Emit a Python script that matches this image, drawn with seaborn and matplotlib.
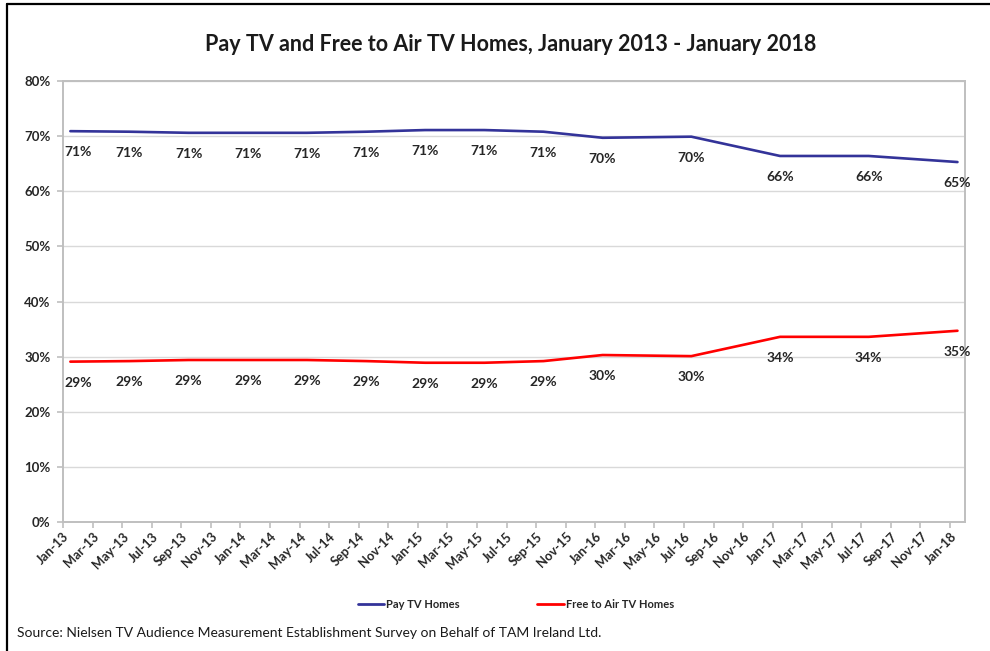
import matplotlib
matplotlib.use("Agg")
import matplotlib.pyplot as plt
from matplotlib.lines import Line2D
from matplotlib.ticker import FuncFormatter
import pandas as pd
import seaborn as sns

# Survey points (month-year) and the share of TV homes, in percent
months = ["Jan-13", "May-13", "Sep-13", "Jan-14", "May-14", "Sep-14", "Jan-15",
          "May-15", "Sep-15", "Jan-16", "Jul-16", "Jan-17", "Jul-17", "Jan-18"]
pay_tv = [70.9, 70.8, 70.6, 70.6, 70.6, 70.8, 71.1, 71.1, 70.8, 69.7, 69.9, 66.4, 66.4, 65.3]
free_to_air = [29.1, 29.2, 29.4, 29.4, 29.4, 29.2, 28.9, 28.9, 29.2, 30.3, 30.1, 33.6, 33.6, 34.7]
series_names = ["Pay TV Homes", "Free to Air TV Homes"]
series_colors = ["#333399", "#FF0000"]
y_ticks = [0, 10, 20, 30, 40, 50, 60, 70, 80]

title = "Pay TV and Free to Air TV Homes, January 2013 - January 2018"
source = "Source: Nielsen TV Audience Measurement Establishment Survey on Behalf of TAM Ireland Ltd."

sns.set_theme(style="white")
plt.rcParams["font.family"] = ["Lato", "DejaVu Sans"]

dates = pd.to_datetime(months, format="%b-%y")
# month index from Jan-13; each point sits in the middle of its month
pos = (dates.year - 2013) * 12 + (dates.month - 1) + 0.5

df = pd.DataFrame({
    "pos": list(pos) * 2,
    "value": pay_tv + free_to_air,
    "series": [series_names[0]] * len(months) + [series_names[1]] * len(months),
})

fig = plt.figure(figsize=(9.9, 6.51), dpi=100)
ax = fig.add_axes([0.0636, 0.198, 0.911, 0.6776])

sns.lineplot(data=df, x="pos", y="value", hue="series", palette=series_colors,
             hue_order=series_names, linewidth=1.9, ax=ax, legend=False)

# x axis: tick every second month, Jan-13 .. Jan-18
tick_dates = pd.date_range("2013-01-01", "2018-01-01", freq="2MS")
tick_pos = [(d.year - 2013) * 12 + d.month - 1 for d in tick_dates]
tick_labels = [d.strftime("%b-%y") for d in tick_dates]
ax.set_xlim(0, 61)
ax.set_xticks(tick_pos)
ax.set_xticklabels(tick_labels, rotation=45, ha="right", rotation_mode="anchor",
                   fontsize=9.3, fontweight="bold", color="#262626")

ax.set_ylim(0, 80)
ax.set_yticks(y_ticks)
ax.yaxis.set_major_formatter(FuncFormatter(lambda v, p: f"{v:.0f}%"))
for lab in ax.get_yticklabels():
    lab.set_fontsize(9.5)
    lab.set_fontweight("bold")
    lab.set_color("#262626")

ax.set_xlabel("")
ax.set_ylabel("")
ax.grid(axis="y", color="#D9D9D9", linewidth=1.0)
ax.set_axisbelow(True)
for side in ["left", "bottom", "right", "top"]:
    ax.spines[side].set_visible(True)
    ax.spines[side].set_color("#BFBFBF")
    ax.spines[side].set_linewidth(1.4)
ax.tick_params(axis="both", which="both", direction="out", length=4, width=1.2,
               color="#BFBFBF", left=True, bottom=True)
ax.tick_params(axis="x", pad=2)
ax.tick_params(axis="y", pad=5)

# value labels under each point
for values in (pay_tv, free_to_air):
    for i, (x, v) in enumerate(zip(pos, values)):
        dx = 8 if i == 0 else 0
        ax.annotate(f"{v:.0f}%", (x, v), xytext=(dx, -21), textcoords="offset pixels",
                    ha="center", va="center", fontsize=10, fontweight="bold",
                    color="#262626", annotation_clip=False)

# legend
handles = [Line2D([0], [0], color=c, linewidth=2) for c in series_colors]
fig.legend(handles, series_names, loc="center", bbox_to_anchor=(0.521, 0.072),
           ncol=2, frameon=False, handlelength=2.4, handletextpad=0.15,
           columnspacing=7.0, prop={"weight": "bold", "size": 8})

fig.text(0.516, 0.931, title, ha="center", va="center", fontsize=15.5, fontweight="bold",
         color="#1a1a1a")
fig.text(0.017, 0.027, source, ha="left", va="center", fontsize=10, color="#1a1a1a")

# outer chart frame (top and left edges)
fig.add_artist(Line2D([7 / 990, 1.0], [1 - 4 / 651, 1 - 4 / 651], transform=fig.transFigure,
                      color="black", linewidth=1.6))
fig.add_artist(Line2D([7 / 990, 7 / 990], [0, 1 - 4 / 651], transform=fig.transFigure,
                      color="black", linewidth=1.6))

fig.savefig("out.png", dpi=100)
